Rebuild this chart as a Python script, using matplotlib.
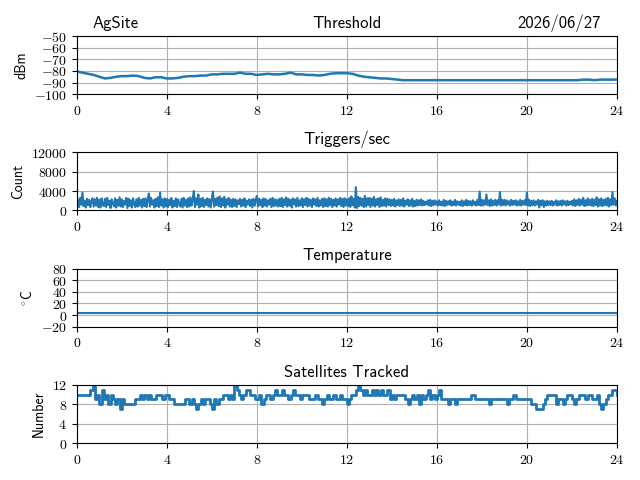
import matplotlib
matplotlib.use("Agg")
import matplotlib.pyplot as plt
from matplotlib.ticker import FuncFormatter

plt.rcParams['mathtext.fontset'] = 'cm'

site = "AgSite"
date = "2026/06/27"
hour_ticks = [0, 4, 8, 12, 16, 20, 24]

# threshold, every 15 minutes
thr_hours = [i * 0.25 for i in range(97)]
thr_dbm = [-80.5, -81.5, -82.5, -83.5, -85, -86.5, -86, -85, -84.5, -84.5, -84, -84.5,
           -86, -86.5, -85.5, -85.5, -86.5, -86.5, -86, -85, -84.5, -84.5, -84, -84,
           -83, -83, -82.5, -82.5, -82.5, -81.5, -82.5, -82.5, -83.5, -83, -82.5, -83,
           -83, -82.5, -81.5, -83, -83, -83.5, -83.5, -84, -83.5, -82.5, -82, -82,
           -82, -82.5, -84, -85, -85.5, -86, -86.5, -86.5, -87, -87.5, -88, -88,
           -88, -88, -88, -88, -88, -88, -88, -88, -88, -88, -88, -88,
           -88, -88, -88, -88, -88, -88, -88, -88, -88, -88, -88, -88,
           -88, -88, -88, -88, -88, -88, -87.5, -87.5, -88, -87.5, -87.5, -87.5, -87.5]

# triggers, every 3 minutes
trig_hours = [i * 0.05 for i in range(481)]
trig_count = [
    1500, 2300, 700, 2600, 1200, 3700, 900, 2000, 600, 2400, 1100, 2200, 700, 1900, 2500, 800, 2300, 1000, 2600, 700,
    2200, 600, 2500, 1300, 900, 2400, 700, 2600, 1100, 2000, 500, 2300, 1500, 800, 2500, 600, 2200, 1000, 2700, 800,
    2300, 700, 2000, 1200, 2600, 500, 2400, 900, 2100, 600, 2500, 1400, 700, 2300, 800, 2600, 1000, 2200, 600, 2400,
    900, 2500, 700, 2200, 3500, 800, 2600, 1200, 2100, 600, 2400, 900, 2700, 700, 3700, 1000, 2300, 600, 2500, 800,
    2400, 700, 2200, 1100, 2600, 600, 2000, 900, 2500, 700, 2300, 1300, 800, 2400, 600, 2600, 1000, 2200, 700, 2500,
    800, 2700, 1000, 2300, 4000, 700, 2500, 1200, 3300, 600, 2400, 900, 2600, 700, 2200, 1100, 2500, 800, 2300, 600,
    2500, 3900, 800, 2400, 1100, 2700, 900, 2900, 700, 2500, 1000, 2800, 600, 2300, 1200, 2600, 800, 2200, 700, 2400,
    900, 2300, 700, 2100, 1300, 2400, 800, 2200, 1000, 2500, 700, 2000, 1200, 2300, 900, 2200, 600, 2400, 1000, 2100,
    3000, 800, 2400, 1100, 2200, 700, 2500, 1000, 2300, 800, 2100, 1200, 2400, 700, 2600, 900, 2300, 1000, 2200, 800,
    2400, 900, 2600, 700, 2300, 1100, 2700, 800, 2400, 1000, 2200, 600, 2500, 1200, 2300, 800, 2600, 900, 2100, 1000,
    2500, 700, 2300, 1100, 2600, 800, 2400, 1000, 2200, 700, 2500, 1200, 2300, 900, 2600, 800, 2100, 1000, 2400, 700,
    2500, 900, 2300, 800, 2600, 1100, 2400, 700, 2200, 1000, 2500, 800, 2300, 1200, 2600, 900, 2400, 700, 2500, 1000,
    2300, 900, 2500, 700, 2900, 1100, 2400, 600, 4800, 500, 2800, 900, 2600, 1000, 2400, 700, 3000, 800, 2500, 1100,
    2600, 700, 2400, 1000, 2800, 800, 2300, 1100, 2500, 700, 2700, 900, 2200, 1000, 2500, 800, 2400, 1100, 2300, 900,
    2200, 1000, 2400, 800, 2100, 1100, 2300, 900, 2200, 1000, 2500, 800, 2000, 1200, 2300, 900, 2100, 1000, 2400, 800,
    2000, 900, 2200, 1000, 2100, 1100, 2300, 1000, 2000, 1100, 1800, 1200, 2100, 1000, 2200, 900, 2000, 1100, 2100, 1200,
    1900, 1000, 2100, 1100, 1800, 1000, 2200, 900, 2000, 1100, 1900, 1200, 2100, 1000, 1800, 1100, 2200, 1000, 1900, 1200,
    1800, 1000, 2100, 900, 1900, 1100, 2200, 1000, 2000, 1100, 1900, 1000, 2100, 1200, 1800, 1000, 2200, 1100, 3900, 1000,
    2200, 1000, 2100, 1200, 3300, 1100, 2100, 900, 2300, 1000, 2000, 1100, 2200, 1000, 2100, 1200, 3800, 1000, 2200, 1100,
    2200, 1000, 2100, 1200, 1900, 1000, 2200, 1100, 2000, 1200, 2100, 1000, 1900, 1100, 2200, 1000, 2000, 1200, 2100, 1100,
    3700, 1000, 2200, 900, 2000, 1100, 2100, 1000, 1900, 1200, 2200, 600, 2000, 1100, 2100, 700, 1900, 1000, 2000, 1100,
    1900, 1100, 2000, 1000, 1800, 1200, 2100, 1000, 1900, 1100, 2000, 1000, 2100, 1200, 1900, 1000, 2000, 1100, 1800, 1200,
    2000, 1000, 2300, 900, 2100, 1100, 2400, 1000, 2200, 1200, 2600, 900, 2100, 1000, 2500, 1100, 2200, 1000, 2400, 900,
    2200, 1100, 2700, 800, 2300, 1000, 2500, 900, 2200, 1100, 2400, 1000, 2600, 800, 2300, 1100, 3800, 1200, 2500, 1000,
    2000]

# temperature, hourly
temp_hours = list(range(25))
temp_c = [3, 3, 3, 3, 3, 3, 3, 3, 3, 3, 3, 3, 3, 3, 3, 3, 3, 3, 3, 3, 3, 3, 3, 3, 3]

# satellites, every 6 minutes
sat_hours = [i * 0.1 for i in range(241)]
sats = [
    10, 10, 10, 10, 10, 10, 11, 12, 9, 10,
    8, 11, 9, 10, 8, 10, 9, 8, 9, 7,
    9, 8, 8, 8, 8, 8, 9, 9, 10, 9,
    10, 9, 10, 9, 9, 10, 10, 10, 9, 10,
    10, 9, 9, 8, 8, 8, 8, 8, 9, 9,
    8, 9, 8, 7, 8, 9, 8, 9, 9, 8,
    7, 9, 8, 9, 9, 10, 10, 9, 10, 9,
    12, 11, 10, 9, 10, 11, 11, 10, 10, 9,
    9, 10, 8, 9, 10, 10, 9, 10, 11, 10,
    10, 11, 10, 10, 9, 10, 11, 10, 10, 9,
    10, 10, 10, 9, 9, 9, 10, 9, 9, 8,
    9, 10, 9, 9, 10, 9, 9, 10, 9, 9,
    8, 9, 10, 10, 11, 12, 11, 10, 11, 10,
    10, 11, 10, 11, 10, 11, 10, 10, 11, 9,
    10, 9, 10, 10, 10, 10, 9, 8, 9, 10,
    9, 10, 8, 10, 9, 10, 11, 9, 10, 9,
    10, 11, 9, 9, 9, 8, 9, 9, 8, 9,
    9, 9, 9, 9, 9, 10, 10, 9, 9, 9,
    9, 9, 9, 8, 9, 9, 9, 9, 9, 9,
    9, 8, 9, 9, 10, 9, 9, 9, 9, 9,
    9, 9, 8, 8, 7, 7, 7, 8, 9, 10,
    10, 10, 10, 8, 9, 9, 8, 9, 10, 10,
    9, 8, 9, 10, 10, 10, 9, 10, 10, 9,
    9, 10, 8, 7, 8, 9, 10, 10, 11, 11,
    10]

sans = {'family': 'cmss10', 'size': 12}
lab = {'family': 'cmss10', 'size': 10}
mathfmt = FuncFormatter(lambda v, p: '$%d$' % round(v))

fig, axes = plt.subplots(4, 1, figsize=(6.4, 4.8), dpi=100)
fig.subplots_adjust(left=0.12, right=0.964, top=0.925, bottom=0.077, hspace=1.0)

ax = axes[0]
ax.plot(thr_hours, thr_dbm, lw=1.8)
ax.set_ylim(-100, -50)
ax.set_yticks([-100, -90, -80, -70, -60, -50])
ax.set_ylabel('dBm', fontdict=lab)
ax.set_title('Threshold', fontdict=sans)
ax.annotate(site, xy=(0.03, 1), xycoords='axes fraction', xytext=(0, 6),
            textcoords='offset points', ha='left', va='baseline', **sans)
ax.annotate(date, xy=(0.97, 1), xycoords='axes fraction', xytext=(0, 6),
            textcoords='offset points', ha='right', va='baseline', **sans)

ax = axes[1]
ax.plot(trig_hours, trig_count, lw=1.5)
ax.set_ylim(0, 12000)
ax.set_yticks([0, 4000, 8000, 12000])
ax.set_ylabel('Count', fontdict=lab)
ax.set_title('Triggers/sec', fontdict=sans)

ax = axes[2]
ax.plot(temp_hours, temp_c, lw=1.5)
ax.set_ylim(-20, 80)
ax.set_yticks([-20, 0, 20, 40, 60, 80])
ax.set_ylabel(r'$^{\circ}\mathsf{C}$')
ax.set_title('Temperature', fontdict=sans)

ax = axes[3]
ax.plot(sat_hours, sats, lw=2.0, drawstyle='steps-post')
ax.set_ylim(0, 12)
ax.set_yticks([0, 4, 8, 12])
ax.set_ylabel('Number', fontdict=lab)
ax.set_title('Satellites Tracked', fontdict=sans)

for ax in axes:
    ax.set_xlim(0, 24)
    ax.set_xticks(hour_ticks)
    ax.xaxis.set_major_formatter(mathfmt)
    ax.yaxis.set_major_formatter(mathfmt)
    ax.grid(True)

fig.savefig('out.png')
